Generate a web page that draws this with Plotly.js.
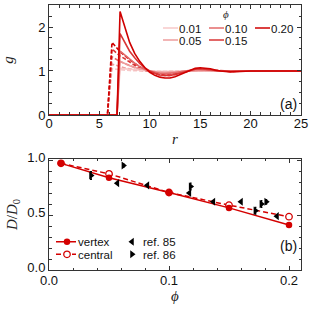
<!DOCTYPE html>
<html>
<head>
<meta charset="utf-8">
<script src="https://cdn.plot.ly/plotly-3.0.1.min.js"></script>
<style>html,body{margin:0;padding:0;background:#fff;}#chart{width:314px;height:309px;}</style>
</head>
<body>
<div id="chart"></div>
<script>
// ---------- panel (a): g(r) ----------
const phiLabels = ['0.01', '0.05', '0.10', '0.15', '0.20'];
const rSolid = [0, 6.75, 7.05, 7.5, 8, 8.5, 9, 9.5, 10, 10.5, 11, 11.5, 12, 12.5, 13, 13.5, 14, 14.5, 15, 15.5, 16, 16.5, 17, 18, 19, 20, 22, 25];
const g01v = [0, 0, 1.06, 1.05, 1.03, 1.02, 1.01, 1.0, 1.0, 0.995, 0.99, 0.99, 0.995, 0.995, 1.0, 1.0, 1.0, 1.005, 1.005, 1.0, 1.0, 1.0, 1.0, 1.0, 1.0, 1.0, 1.0, 1.0];
const g05v = [0, 0, 1.22, 1.17, 1.12, 1.08, 1.05, 1.02, 1.0, 0.98, 0.97, 0.97, 0.975, 0.98, 0.99, 1.0, 1.01, 1.015, 1.015, 1.01, 1.005, 1.0, 1.0, 1.0, 1.0, 1.0, 1.0, 1.0];
const g10v = [0, 0, 1.45, 1.36, 1.26, 1.18, 1.1, 1.04, 1.0, 0.97, 0.95, 0.94, 0.945, 0.96, 0.98, 1.0, 1.02, 1.03, 1.03, 1.02, 1.01, 1.005, 1.0, 0.995, 1.0, 1.0, 1.0, 1.0];
const g15v = [0, 0, 1.85, 1.65, 1.45, 1.3, 1.17, 1.07, 1.0, 0.95, 0.91, 0.9, 0.9, 0.92, 0.95, 0.99, 1.02, 1.04, 1.05, 1.045, 1.03, 1.01, 1.0, 0.99, 0.995, 1.0, 1.0, 1.0];
const g20v = [0, 0, 2.35, 2.0, 1.65, 1.4, 1.22, 1.08, 0.97, 0.9, 0.86, 0.84, 0.84, 0.87, 0.92, 0.97, 1.02, 1.06, 1.075, 1.07, 1.05, 1.02, 1.0, 0.98, 0.99, 1.0, 1.0, 1.0];

const rDash = [0, 5.8, 6.25, 6.6, 7, 7.5, 8, 8.5, 9, 9.5, 10, 10.5, 11, 11.5, 12, 12.5, 13, 13.5, 14, 14.5, 15, 15.5, 16, 16.5, 17, 18, 19, 20, 22, 25];
const g01c = [0, 0, 1.05, 1.04, 1.03, 1.02, 1.01, 1.005, 1.0, 1.0, 1.0, 0.995, 0.995, 0.995, 1.0, 1.0, 1.0, 1.0, 1.0, 1.0, 1.0, 1.0, 1.0, 1.0, 1.0, 1.0, 1.0, 1.0, 1.0, 1.0];
const g05c = [0, 0, 1.16, 1.13, 1.1, 1.07, 1.05, 1.03, 1.01, 1.0, 0.99, 0.98, 0.98, 0.98, 0.985, 0.99, 0.995, 1.0, 1.005, 1.01, 1.01, 1.005, 1.0, 1.0, 1.0, 1.0, 1.0, 1.0, 1.0, 1.0];
const g10c = [0, 0, 1.32, 1.27, 1.22, 1.17, 1.12, 1.08, 1.04, 1.01, 0.99, 0.97, 0.96, 0.955, 0.96, 0.97, 0.98, 1.0, 1.01, 1.02, 1.02, 1.015, 1.01, 1.005, 1.0, 1.0, 1.0, 1.0, 1.0, 1.0];
const g15c = [0, 0, 1.5, 1.42, 1.35, 1.28, 1.2, 1.13, 1.07, 1.02, 0.99, 0.96, 0.94, 0.93, 0.935, 0.95, 0.97, 0.99, 1.01, 1.03, 1.035, 1.03, 1.02, 1.01, 1.0, 0.995, 1.0, 1.0, 1.0, 1.0];
const g20c = [0, 0, 1.65, 1.55, 1.45, 1.35, 1.25, 1.17, 1.1, 1.03, 0.98, 0.94, 0.91, 0.9, 0.9, 0.92, 0.95, 0.99, 1.02, 1.04, 1.05, 1.045, 1.03, 1.01, 1.0, 0.99, 0.995, 1.0, 1.0, 1.0];

// ---------- panel (b): D/D0 vs phi ----------
const phiSim = [0.01, 0.05, 0.10, 0.15, 0.20];
const dVertex = [0.97, 0.84, 0.705, 0.565, 0.41];
const dCentral = [0.97, 0.875, 0.705, 0.59, 0.485];
const phiRef85 = [0.057, 0.082, 0.117, 0.137, 0.16, 0.19];
const dRef85 = [0.79, 0.77, 0.70, 0.62, 0.62, 0.49];
const phiRef86 = [0.035, 0.062, 0.118, 0.172, 0.177, 0.181];
const dRef86 = [0.86, 0.95, 0.76, 0.54, 0.60, 0.62];
const errRef86 = [0.035, 0.015, 0.03, 0.03, 0.03, 0.02];

const colors = ['#f7c9c9', '#ee9c9c', '#e36a6a', '#d93535', '#cf0000'];
const red = '#d40000';
const vSeries = [g01v, g05v, g10v, g15v, g20v];
const cSeries = [g01c, g05c, g10c, g15c, g20c];
const legendIds = ['legend', 'legend2', 'legend3', 'legend4', 'legend5'];

const traces = [];
for (let i = 0; i < 5; i++) {
  traces.push({x: rDash, y: cSeries[i], mode: 'lines', xaxis: 'x', yaxis: 'y',
    line: {color: colors[i], width: 1.6, dash: '4px,2px'}, showlegend: false, hoverinfo: 'skip'});
}
for (let i = 0; i < 5; i++) {
  traces.push({x: rSolid, y: vSeries[i], mode: 'lines', xaxis: 'x', yaxis: 'y',
    name: phiLabels[i], legend: legendIds[i],
    line: {color: colors[i], width: 1.6}});
}
traces.push({x: phiSim, y: dCentral, mode: 'lines+markers', xaxis: 'x2', yaxis: 'y2', name: 'central', legend: 'legend7',
  line: {color: red, width: 1.5, dash: '5px,3px'}, marker: {symbol: 'circle', size: 6.5, color: '#ffffff', line: {color: red, width: 1.3}}});
traces.push({x: phiSim, y: dVertex, mode: 'lines+markers', xaxis: 'x2', yaxis: 'y2', name: 'vertex', legend: 'legend6',
  line: {color: red, width: 1.5}, marker: {symbol: 'circle', size: 6.5, color: red}});
traces.push({x: phiRef85, y: dRef85, mode: 'markers', xaxis: 'x2', yaxis: 'y2', name: 'ref. 85', legend: 'legend8',
  marker: {symbol: 'triangle-left', size: 7, color: '#000'}});
traces.push({x: phiRef86, y: dRef86, mode: 'markers', xaxis: 'x2', yaxis: 'y2', name: 'ref. 86', legend: 'legend9',
  error_y: {type: 'data', array: errRef86, visible: true, color: '#000', thickness: 1.4, width: 1},
  marker: {symbol: 'triangle-right', size: 7, color: '#000'}});

const axCommon = {
  showgrid: false, zeroline: false, showline: true, linecolor: '#333', linewidth: 1,
  mirror: 'allticks', ticks: 'inside', ticklen: 4, tickcolor: '#333', tickwidth: 1,
  tickfont: {family: 'Liberation Sans, Arial, sans-serif', size: 13, color: '#111'}
};
const titleFont = {family: 'Liberation Serif, serif', size: 15, color: '#222', style: 'italic'};
const legFont = {family: 'Liberation Sans, Arial, sans-serif', size: 11.5, color: '#111'};

function px2x(p) { return (p - 49) / 252; }
function py2y(p) { return (270 - p) / 265; }
// legend anchored so that its text (drawn 40px right of the legend origin) starts at textX
function leg(textX, yp) {
  return {x: px2x(textX - 40), y: py2y(yp), xanchor: 'left', yanchor: 'middle', bgcolor: 'rgba(0,0,0,0)',
    borderwidth: 0, font: legFont, orientation: 'v', itemclick: false, itemdoubleclick: false};
}

const layout = {
  width: 314, height: 309,
  margin: {l: 49, r: 13, t: 5, b: 39},
  paper_bgcolor: '#fff', plot_bgcolor: '#fff',
  xaxis: Object.assign({}, axCommon, {domain: [0, 1], range: [0, 25], tickvals: [0, 5, 10, 15, 20, 25],
    ticklabelstandoff: -4,
    minor: {dtick: 1, ticklen: 2.5, tickcolor: '#333', ticks: 'inside'}, anchor: 'y'}),
  yaxis: Object.assign({}, axCommon, {domain: [0.585, 1], range: [0, 2.5], tickvals: [0, 1, 2],
    minor: {dtick: 0.25, ticklen: 2.5, tickcolor: '#333', ticks: 'inside'}, anchor: 'x',
    title: {text: 'g', font: titleFont, standoff: 20}}),
  xaxis2: Object.assign({}, axCommon, {domain: [0, 1], range: [0, 0.21], tickvals: [0, 0.1, 0.2], tickformat: '.1f',
    ticklabelstandoff: -2,
    minor: {dtick: 0.02, ticklen: 2.5, tickcolor: '#333', ticks: 'inside'}, anchor: 'y2'}),
  yaxis2: Object.assign({}, axCommon, {domain: [0, 0.419], range: [0, 1.01], tickvals: [0, 0.5, 1], tickformat: '.1f',
    ticklabelshift: -3,
    minor: {dtick: 0.1, ticklen: 2.5, tickcolor: '#333', ticks: 'inside'}, anchor: 'x2',
    title: {text: '<i>D</i>/<i>D</i><sub>0</sub>', font: Object.assign({}, titleFont, {style: 'normal'}), standoff: 6}}),
  legend: leg(179, 28), legend2: leg(179, 40), legend3: leg(225, 28), legend4: leg(225, 40), legend5: leg(271, 28),
  legend6: leg(78, 241.7), legend7: leg(78, 254.3), legend8: leg(143, 241.7), legend9: leg(143, 254.3),
  annotations: [
    {xref: 'paper', yref: 'paper', x: 0.5, y: py2y(139), yanchor: 'middle', text: 'r', showarrow: false,
      font: titleFont},
    {xref: 'paper', yref: 'paper', x: 0.5, y: py2y(296), yanchor: 'middle', text: 'ϕ', showarrow: false,
      font: titleFont},
    {xref: 'paper', yref: 'paper', x: px2x(231), y: py2y(14), yanchor: 'middle', text: 'ϕ', showarrow: false,
      font: {family: 'Liberation Serif, serif', size: 11, color: '#222', style: 'italic'}},
    {xref: 'paper', yref: 'paper', x: px2x(299), y: py2y(104), xanchor: 'right', text: '(a)', showarrow: false,
      font: {family: 'Liberation Sans, Arial, sans-serif', size: 14, color: '#111'}},
    {xref: 'paper', yref: 'paper', x: px2x(299), y: py2y(256), xanchor: 'right', text: '(b)', showarrow: false,
      font: {family: 'Liberation Sans, Arial, sans-serif', size: 14, color: '#111'}}
  ],
  showlegend: true
};

// shorten legend samples and place them just left of the text (text stays at 40px)
const legSpec = {
  legend: {line: [24, 15]}, legend2: {line: [24, 15]}, legend3: {line: [24, 15]},
  legend4: {line: [24, 15]}, legend5: {line: [24, 15]},
  legend6: {line: [18, 20], mk: 29}, legend7: {line: [18, 20], mk: 29},
  legend8: {mk: 29}, legend9: {mk: 29}
};
function tweakLegends(gd) {
  Object.keys(legSpec).forEach(function (id) {
    const s = legSpec[id];
    gd.querySelectorAll('g.' + id + ' .traces').forEach(function (tr) {
      if (s.line) tr.querySelectorAll('.legendlines path').forEach(function (p) {
        p.setAttribute('d', 'M' + s.line[0] + ',0h' + s.line[1]);
      });
      if (s.mk !== undefined) tr.querySelectorAll('.legendpoints .scatterpts').forEach(function (p) {
        p.setAttribute('transform', 'translate(' + s.mk + ',0)');
      });
    });
  });
}

Plotly.newPlot('chart', traces, layout, {staticPlot: true, displayModeBar: false}).then(function (gd) {
  tweakLegends(gd);
  gd.on('plotly_afterplot', function () { tweakLegends(gd); });
  setTimeout(function () { tweakLegends(gd); }, 0);
  setTimeout(function () { tweakLegends(gd); }, 100);
});
</script>
</body>
</html>
